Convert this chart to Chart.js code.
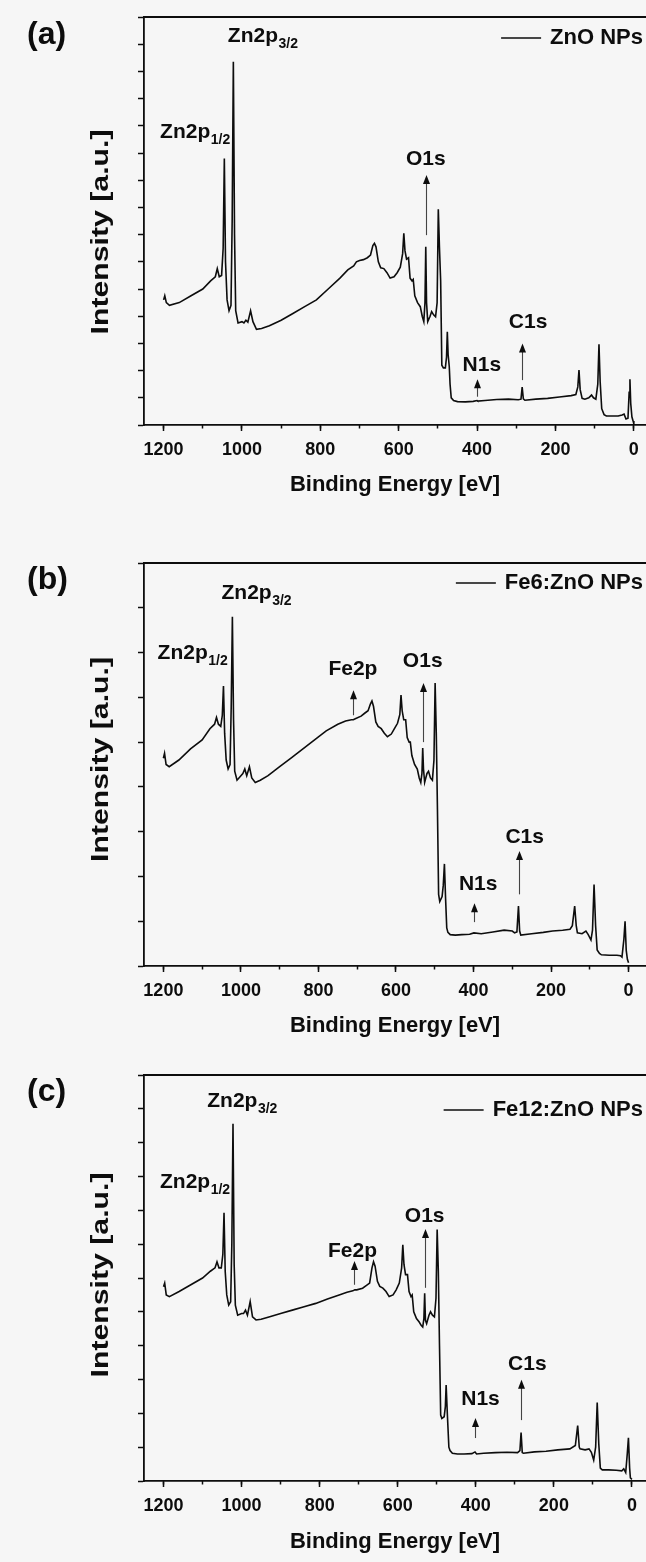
<!DOCTYPE html>
<html><head><meta charset="utf-8">
<script src="https://cdn.jsdelivr.net/npm/chart.js@4.4.1/dist/chart.umd.min.js"></script>
<style>
html,body{margin:0;padding:0;background:#f6f6f6;}
body{width:646px;height:1562px;position:relative;overflow:hidden;}
.panel{position:absolute;left:0;width:646px;}
canvas{display:block;}
</style></head><body>
<div class="panel" style="top:0px;height:515px"><canvas id="ca" width="646" height="515"></canvas></div>
<div class="panel" style="top:530px;height:515px"><canvas id="cb" width="646" height="515"></canvas></div>
<div class="panel" style="top:1045px;height:517px"><canvas id="cc" width="646" height="517"></canvas></div>
<script>
// ---------------- data ----------------
const seriesNames = ['ZnO NPs', 'Fe6:ZnO NPs', 'Fe12:ZnO NPs'];
const panelLetters = ['(a)', '(b)', '(c)'];
const xTickLabels = [0, 200, 400, 600, 800, 1000, 1200];
const xMinorTicks = [0, 100, 200, 300, 400, 500, 600, 700, 800, 900, 1000, 1100, 1200];
const xTitle = 'Binding Energy [eV]';
const yTitle = 'Intensity [a.u.]';

const energyA = [1200,1197,1193,1185,1160,1130,1100,1080,1068,1063,1058,1052,1048,1045,1042,1038,1033,1028,1025,1022,1019,1016,1010,1000,995,990,985,978,972,963,950,930,900,870,840,810,780,750,730,715,708,700,690,680,672,666,662,658,652,646,638,630,622,612,604,596,590,587,584,580,575,571,566,563,559,552,545,540,536,533,531,529,526,520,516,511,506,502,499,496,493,490,486,481,478,476,474,471,469,466,460,450,430,410,400,398,380,350,320,295,288,285,282,278,250,220,190,160,148,143,140,137,132,125,115,108,103,97,92,89,86,82,76,70,55,40,30,25,20,15,12,10,8,5,2,0];
const intensityA = [4.6,4.75,4.5,4.4,4.5,4.75,5.0,5.3,5.45,5.75,5.45,5.5,6.5,9.8,6.0,4.6,4.2,4.4,7.5,13.35,7.0,4.2,3.75,3.8,3.75,3.85,3.78,4.2,3.8,3.52,3.55,3.65,3.85,4.1,4.35,4.6,5.0,5.4,5.7,5.85,6.0,6.05,6.08,6.15,6.25,6.6,6.68,6.55,6.0,5.78,5.75,5.6,5.4,5.45,5.6,5.8,6.3,7.05,6.4,6.1,6.15,5.4,5.3,5.35,4.75,4.5,4.35,4.0,3.8,4.5,6.55,4.5,3.8,4.0,4.17,4.05,3.98,4.5,7.93,6.5,5.3,2.2,2.1,2.1,2.5,3.43,2.6,2.14,1.5,1.0,0.9,0.86,0.85,0.87,0.9,0.88,0.9,0.94,0.95,0.93,0.95,1.39,0.96,0.91,0.95,0.98,1.03,1.08,1.12,1.4,2.02,1.3,0.98,0.95,1.0,1.1,1.0,0.95,1.5,2.97,1.6,0.6,0.38,0.33,0.33,0.33,0.37,0.4,0.22,0.25,1.2,1.68,0.8,0.3,0.15,0.04];

const energyB = [1200,1197,1193,1185,1160,1130,1100,1080,1068,1063,1058,1052,1048,1045,1042,1038,1033,1028,1025,1022,1019,1016,1010,1000,995,990,985,978,972,963,950,930,900,870,840,810,780,750,730,715,710,705,690,680,672,666,662,658,652,646,638,630,622,612,604,596,590,587,584,580,575,571,566,563,559,552,545,540,536,533,531,529,526,520,516,511,506,502,499,496,493,490,487,481,478,475,472,469,466,460,447,430,410,399,380,350,321,300,294,288,284,281,278,250,220,196,170,151,145,139,135,132,120,110,104,97,93,89,85,81,75,70,50,30,21,17,12,9,6,3,0];
const intensityB = [4.64,4.75,4.5,4.45,4.6,4.85,5.05,5.3,5.4,5.55,5.4,5.35,5.6,6.25,5.2,4.6,4.4,4.5,5.8,7.8,5.5,4.35,4.15,4.25,4.3,4.4,4.25,4.45,4.2,4.1,4.15,4.25,4.45,4.65,4.85,5.05,5.25,5.4,5.47,5.5,5.5,5.52,5.58,5.65,5.7,5.85,5.92,5.8,5.45,5.35,5.3,5.2,5.12,5.18,5.3,5.42,5.62,6.05,5.7,5.5,5.5,5.1,5.0,5.0,4.7,4.5,4.4,4.2,4.1,4.3,4.87,4.4,4.1,4.3,4.35,4.2,4.15,4.6,6.32,5.2,3.5,1.6,1.44,1.55,1.8,2.28,1.5,0.85,0.75,0.7,0.69,0.7,0.71,0.74,0.72,0.76,0.8,0.78,0.74,0.76,1.34,0.78,0.69,0.72,0.75,0.78,0.8,0.82,0.9,1.34,0.9,0.74,0.72,0.78,0.7,0.58,0.8,1.82,0.9,0.36,0.28,0.25,0.24,0.24,0.23,0.2,0.6,1.0,0.35,0.15,0.07];

const energyC = [1200,1197,1193,1185,1160,1130,1100,1080,1068,1063,1058,1052,1048,1045,1042,1038,1033,1028,1025,1022,1019,1016,1010,1000,995,990,985,978,972,963,950,930,900,870,840,810,780,750,730,715,710,705,690,680,672,666,662,658,652,646,638,630,622,612,604,596,590,587,584,580,575,571,566,563,559,552,545,540,536,533,531,529,526,520,516,511,506,502,499,496,493,490,487,481,478,476,473,469,466,460,447,430,410,402,398,380,350,320,293,287,284,281,278,250,220,190,159,145,139,135,133,120,110,104,98,93,89,85,81,76,60,40,26,21,16,12,9,6,4,0];
const intensityC = [5.74,5.85,5.5,5.45,5.6,5.8,6.0,6.2,6.3,6.48,6.3,6.3,6.7,7.93,6.2,5.5,5.2,5.3,7.0,10.56,6.4,5.2,4.9,4.95,4.95,5.05,4.9,5.3,4.85,4.76,4.78,4.85,4.95,5.05,5.15,5.25,5.38,5.5,5.58,5.62,5.65,5.65,5.7,5.78,5.85,6.3,6.48,6.35,5.9,5.75,5.7,5.6,5.45,5.5,5.65,5.85,6.3,6.98,6.4,6.1,6.1,5.6,5.45,5.5,5.0,4.8,4.7,4.6,4.55,4.8,5.55,4.75,4.65,4.9,5.0,4.9,4.85,5.4,7.43,6.2,4.0,1.95,1.85,1.9,2.2,2.84,2.0,1.0,0.9,0.82,0.8,0.8,0.81,0.86,0.8,0.82,0.84,0.85,0.84,0.9,1.43,0.84,0.82,0.86,0.88,0.92,0.95,1.05,1.64,1.0,0.95,0.92,0.95,0.85,0.62,1.0,2.32,1.1,0.38,0.33,0.33,0.32,0.3,0.36,0.25,0.8,1.28,0.4,0.09,0.05];

// peak labels [text, subscript, energy, intensity, align]
const labelsA = [['Zn2p','3/2',1036,14.08,'left'],['Zn2p','1/2',1209,10.55,'left'],['O1s','',531,9.56,'center'],['C1s','',270,3.57,'center'],['N1s','',388,1.99,'center']];
const labelsB = [['Zn2p','3/2',1050,8.2,'left'],['Zn2p','1/2',1215,6.85,'left'],['Fe2p','',711,6.5,'center'],['O1s','',531,6.67,'center'],['C1s','',268,2.75,'center'],['N1s','',388,1.7,'center']];
const labelsC = [['Zn2p','3/2',1088,11.04,'left'],['Zn2p','1/2',1209,8.67,'left'],['Fe2p','',716,6.63,'center'],['O1s','',531,7.66,'center'],['C1s','',268,3.28,'center'],['N1s','',388,2.25,'center']];
// arrows [energy, from intensity, to intensity]
const arrowsA = [[531,6.98,9.19],[285,1.65,3.0],[401,1.04,1.68]];
const arrowsB = [[711,5.6,6.16],[531,5.0,6.32],[283,1.6,2.57],[398,0.98,1.4]];
const arrowsC = [[711,5.8,6.5],[531,5.71,7.45],[284,1.8,2.99],[402,1.27,1.86]];
const yMaxes = [15, 9, 12];
const xMins = [-31, -45, -36];

// ---------------- drawing ----------------
const INK = '#0d0d0d';
const FONT = '"Liberation Sans", Arial, Helvetica, sans-serif';

const decor = {
  id: 'decor',
  afterDraw(chart) {
    const p = chart.options.plugins.decor;
    const {ctx, chartArea: ca, scales: {x, y}} = chart;
    ctx.save();
    ctx.strokeStyle = INK; ctx.fillStyle = INK;
    ctx.lineWidth = 1.8;
    ctx.beginPath(); ctx.moveTo(ca.left - 0.9, ca.top); ctx.lineTo(ca.right, ca.top); ctx.stroke();
    // y axis title (stretched along its length like the original)
    ctx.save();
    ctx.translate(102, (ca.top + ca.bottom) / 2 + p.yTitleDy);
    ctx.rotate(-Math.PI / 2);
    ctx.font = 'bold 23px ' + FONT;
    const yw = ctx.measureText(yTitle).width;
    ctx.scale(205 / yw, 1);
    ctx.textAlign = 'center'; ctx.textBaseline = 'middle';
    ctx.fillText(yTitle, 0, 0);
    ctx.restore();
    // panel letter
    ctx.font = 'bold 32px ' + FONT; ctx.textAlign = 'left'; ctx.textBaseline = 'middle';
    ctx.fillText(p.letter, 27, ca.top + p.letterDy);
    // legend
    ctx.font = 'bold 22px ' + FONT; ctx.textAlign = 'right';
    const ly = ca.top + p.legendDy, tr = ca.right - 3;
    ctx.fillText(p.name, tr, ly);
    const tw = ctx.measureText(p.name).width;
    ctx.lineWidth = 1.6;
    ctx.beginPath(); ctx.moveTo(tr - tw - 9, ly); ctx.lineTo(tr - tw - 49, ly); ctx.stroke();
    // peak labels
    ctx.textBaseline = 'alphabetic'; ctx.textAlign = 'left';
    for (const [t, sub, e, v, al] of p.labels) {
      const px = x.getPixelForValue(e), py = y.getPixelForValue(v);
      ctx.font = 'bold 21px ' + FONT;
      const w1 = ctx.measureText(t).width;
      ctx.font = 'bold 14px ' + FONT;
      const w2 = sub ? ctx.measureText(sub).width : 0;
      const sx = al === 'center' ? px - (w1 + w2) / 2 : px;
      ctx.font = 'bold 21px ' + FONT;
      ctx.fillText(t, sx, py);
      if (sub) { ctx.font = 'bold 14px ' + FONT; ctx.fillText(sub, sx + w1 + 0.5, py + 6); }
    }
    // arrows
    for (const [e, v0, v1] of p.arrows) {
      const px = Math.round(x.getPixelForValue(e)) + 0.5;
      const y0 = y.getPixelForValue(v0), y1 = y.getPixelForValue(v1);
      ctx.strokeStyle = '#444'; ctx.lineWidth = 1.1;
      ctx.beginPath(); ctx.moveTo(px, y0); ctx.lineTo(px, y1 + 7); ctx.stroke();
      ctx.fillStyle = INK;
      ctx.beginPath(); ctx.moveTo(px, y1); ctx.lineTo(px - 3.5, y1 + 9); ctx.lineTo(px + 3.5, y1 + 9); ctx.closePath(); ctx.fill();
    }
    ctx.restore();
  }
};

function makePanel(id, idx, energy, inten, labels, arrows, geo) {
  const canvas = document.getElementById(id);
  const H = canvas.height;
  const pts = energy.map((e, i) => ({x: e, y: inten[i]}));
  return new Chart(canvas, {
    type: 'line',
    data: { datasets: [{ label: seriesNames[idx], data: pts, borderColor: INK, borderWidth: 1.6,
      pointRadius: 0, tension: 0, fill: false }] },
    options: {
      responsive: false, animation: false, devicePixelRatio: 1,
      layout: { padding: { top: geo.top, left: 0, right: 0, bottom: 0 } },
      plugins: {
        legend: { display: false }, tooltip: { enabled: false },
        decor: { letter: panelLetters[idx], name: seriesNames[idx], labels, arrows,
          letterDy: geo.letterDy, legendDy: geo.legendDy, yTitleDy: geo.yTitleDy }
      },
      scales: {
        xm: {
          type: 'linear', position: 'bottom', reverse: true, min: xMins[idx], max: 1250, weight: 0,
          afterBuildTicks: s => { s.ticks = xMinorTicks.map(v => ({value: v})); },
          afterFit: s => { s.height = 0; },
          ticks: { display: false },
          grid: { drawOnChartArea: false, drawTicks: true, tickLength: 3.5, tickWidth: 1.5, tickColor: INK },
          border: { display: false }
        },
        x: {
          type: 'linear', position: 'bottom', reverse: true, min: xMins[idx], max: 1250, weight: 1,
          afterBuildTicks: s => { s.ticks = xTickLabels.map(v => ({value: v})); },
          afterFit: s => { s.height = H - geo.bottom; },
          ticks: { color: INK, font: { family: FONT, size: 18, weight: 'bold' }, padding: 8,
            maxRotation: 0, autoSkip: false, callback: v => String(v) },
          grid: { drawOnChartArea: false, drawTicks: true, tickLength: 6, tickWidth: 1.5, tickColor: INK },
          border: { display: true, color: INK, width: 1.8 },
          title: { display: true, text: xTitle, color: INK,
            font: { family: FONT, size: 22, weight: 'bold' }, padding: { top: 0, bottom: geo.titlePad } }
        },
        y: {
          type: 'linear', position: 'left', min: 0, max: yMaxes[idx],
          afterFit: s => { s.width = 144; },
          ticks: { display: false, stepSize: 1 },
          grid: { drawOnChartArea: false, drawTicks: true, tickLength: 6, tickWidth: 1.5, tickColor: INK },
          border: { display: true, color: INK, width: 1.8 },
          title: { display: false, text: yTitle }
        }
      }
    },
    plugins: [decor]
  });
}

makePanel('ca', 0, energyA, intensityA, labelsA, arrowsA, {top: 17, bottom: 425, titlePad: 16.8, letterDy: 18, legendDy: 21, yTitleDy: 11});
makePanel('cb', 1, energyB, intensityB, labelsB, arrowsB, {top: 33, bottom: 436, titlePad: 5.8, letterDy: 17, legendDy: 20, yTitleDy: -5});
makePanel('cc', 2, energyC, intensityC, labelsC, arrowsC, {top: 30, bottom: 436, titlePad: 6.8, letterDy: 17, legendDy: 35, yTitleDy: -3});
</script>
</body></html>
